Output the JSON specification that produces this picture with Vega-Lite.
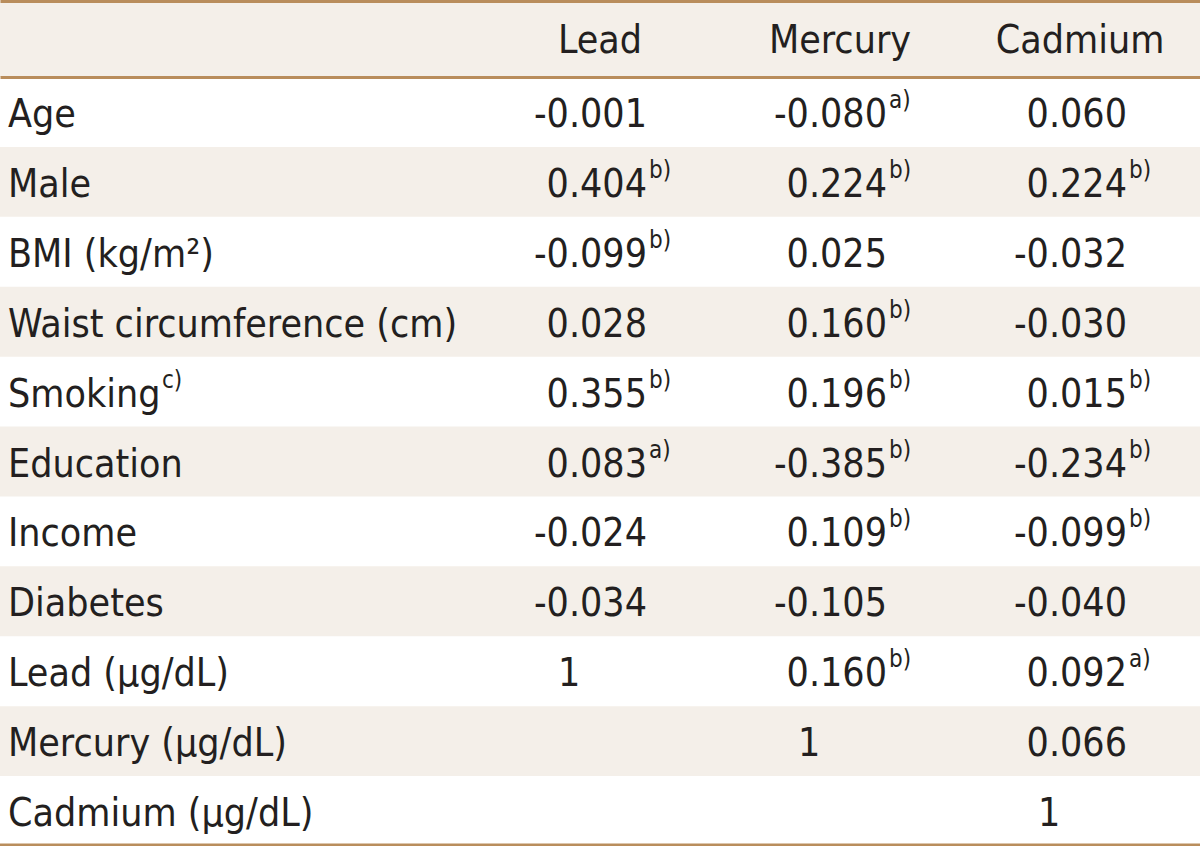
{
  "$schema": "https://vega.github.io/schema/vega-lite/v6.json",
  "padding": 0,
  "background": "white",
  "spacing": 0,
  "bounds": "flush",
  "config": {
    "view": {"stroke": null},
    "axis": {"domainColor": "#b98d5c", "domainOpacity": 1},
    "text": {"font": "DejaVu Sans Condensed, Roboto", "color": "#231f20"}
  },
  "datasets": {
    "header": [{"col": "Lead"}, {"col": "Mercury"}, {"col": "Cadmium"}],
    "cells": [
      {"row": "Age", "col": "Variable", "val": "Age", "note": ""},
      {"row": "Age", "col": "Lead", "val": "-0.001", "note": ""},
      {"row": "Age", "col": "Mercury", "val": "-0.080", "note": "a)"},
      {"row": "Age", "col": "Cadmium", "val": "0.060", "note": ""},
      {"row": "Male", "col": "Variable", "val": "Male", "note": ""},
      {"row": "Male", "col": "Lead", "val": "0.404", "note": "b)"},
      {"row": "Male", "col": "Mercury", "val": "0.224", "note": "b)"},
      {"row": "Male", "col": "Cadmium", "val": "0.224", "note": "b)"},
      {"row": "BMI", "col": "Variable", "val": "BMI (kg/m²)", "note": ""},
      {"row": "BMI", "col": "Lead", "val": "-0.099", "note": "b)"},
      {"row": "BMI", "col": "Mercury", "val": "0.025", "note": ""},
      {"row": "BMI", "col": "Cadmium", "val": "-0.032", "note": ""},
      {"row": "Waist", "col": "Variable", "val": "Waist circumference (cm)", "note": ""},
      {"row": "Waist", "col": "Lead", "val": "0.028", "note": ""},
      {"row": "Waist", "col": "Mercury", "val": "0.160", "note": "b)"},
      {"row": "Waist", "col": "Cadmium", "val": "-0.030", "note": ""},
      {"row": "Smoking", "col": "Variable", "val": "Smoking", "note": "c)"},
      {"row": "Smoking", "col": "Lead", "val": "0.355", "note": "b)"},
      {"row": "Smoking", "col": "Mercury", "val": "0.196", "note": "b)"},
      {"row": "Smoking", "col": "Cadmium", "val": "0.015", "note": "b)"},
      {"row": "Education", "col": "Variable", "val": "Education", "note": ""},
      {"row": "Education", "col": "Lead", "val": "0.083", "note": "a)"},
      {"row": "Education", "col": "Mercury", "val": "-0.385", "note": "b)"},
      {"row": "Education", "col": "Cadmium", "val": "-0.234", "note": "b)"},
      {"row": "Income", "col": "Variable", "val": "Income", "note": ""},
      {"row": "Income", "col": "Lead", "val": "-0.024", "note": ""},
      {"row": "Income", "col": "Mercury", "val": "0.109", "note": "b)"},
      {"row": "Income", "col": "Cadmium", "val": "-0.099", "note": "b)"},
      {"row": "Diabetes", "col": "Variable", "val": "Diabetes", "note": ""},
      {"row": "Diabetes", "col": "Lead", "val": "-0.034", "note": ""},
      {"row": "Diabetes", "col": "Mercury", "val": "-0.105", "note": ""},
      {"row": "Diabetes", "col": "Cadmium", "val": "-0.040", "note": ""},
      {"row": "LeadB", "col": "Variable", "val": "Lead (μg/dL)", "note": ""},
      {"row": "LeadB", "col": "Lead", "val": "1", "note": ""},
      {"row": "LeadB", "col": "Mercury", "val": "0.160", "note": "b)"},
      {"row": "LeadB", "col": "Cadmium", "val": "0.092", "note": "a)"},
      {"row": "MercuryB", "col": "Variable", "val": "Mercury (μg/dL)", "note": ""},
      {"row": "MercuryB", "col": "Mercury", "val": "1", "note": ""},
      {"row": "MercuryB", "col": "Cadmium", "val": "0.066", "note": ""},
      {"row": "CadmiumB", "col": "Variable", "val": "Cadmium (μg/dL)", "note": ""},
      {"row": "CadmiumB", "col": "Cadmium", "val": "1", "note": ""}
    ]
  },
  "vconcat": [
    {
      "width": 1200,
      "height": 77,
      "view": {"fill": "#f4efe9", "stroke": null},
      "data": {"name": "header"},
      "mark": {"type": "text", "fontSize": 39, "baseline": "alphabetic", "align": "center", "dy": 14.5},
      "encoding": {
        "x": {
          "field": "col", "type": "nominal",
          "scale": {"domain": ["Variable", "Blank", "Lead", "Mercury", "Cadmium"], "paddingInner": 0, "paddingOuter": 0},
          "axis": {"orient": "top", "domainColor": "#b98d5c", "domainWidth": 5, "labels": false, "ticks": false, "title": null, "grid": false}
        },
        "text": {"field": "col"}
      }
    },
    {
      "width": 1200,
      "height": 769,
      "data": {"name": "cells"},
      "encoding": {
        "y": {
          "field": "row", "type": "nominal",
          "scale": {"domain": ["Age", "Male", "BMI", "Waist", "Smoking", "Education", "Income", "Diabetes", "LeadB", "MercuryB", "CadmiumB"], "paddingInner": 0, "paddingOuter": 0},
          "axis": null
        }
      },
      "layer": [
        {
          "transform": [
            {"filter": {"field": "col", "equal": "Variable"}},
            {"filter": {"field": "row", "oneOf": ["Male", "Waist", "Education", "Diabetes", "MercuryB"]}}
          ],
          "mark": {"type": "rect", "color": "#f4efe9"},
          "encoding": {}
        },
        {
          "transform": [
            {"filter": {"field": "col", "equal": "Variable"}},
            {"filter": {"field": "row", "equal": "CadmiumB"}}
          ],
          "mark": {"type": "rule", "color": "#b98d5c", "strokeWidth": 5, "clip": true},
          "encoding": {
            "y": {"field": "row", "type": "nominal", "bandPosition": 1, "axis": null}
          }
        },
        {
          "transform": [{"filter": {"field": "col", "equal": "Variable"}}],
          "mark": {"type": "text", "fontSize": 39, "baseline": "alphabetic", "align": "left", "dx": -112, "dy": 15},
          "encoding": {
            "x": {
              "field": "col", "type": "nominal",
              "scale": {"domain": ["Variable", "Blank", "Lead", "Mercury", "Cadmium"], "paddingInner": 0, "paddingOuter": 0},
              "axis": {"orient": "top", "domainColor": "#b98d5c", "domainWidth": 3, "labels": false, "ticks": false, "title": null, "grid": false}
            },
            "text": {"field": "val"}
          }
        },
        {
          "transform": [{"filter": "datum.col === 'Variable' && datum.note !== ''"}],
          "mark": {"type": "text", "fontSize": 24, "baseline": "alphabetic", "align": "left", "dx": 42, "dy": -4},
          "encoding": {
            "x": {"field": "col", "type": "nominal"},
            "text": {"field": "note"}
          }
        },
        {
          "transform": [{"filter": "datum.col !== 'Variable' && datum.val !== '1'"}],
          "mark": {"type": "text", "fontSize": 39, "baseline": "alphabetic", "align": "right", "dx": 47, "dy": 15},
          "encoding": {
            "x": {"field": "col", "type": "nominal"},
            "text": {"field": "val"}
          }
        },
        {
          "transform": [{"filter": "datum.col !== 'Variable' && datum.val === '1'"}],
          "mark": {"type": "text", "fontSize": 39, "baseline": "alphabetic", "align": "left", "dx": -42, "dy": 15},
          "encoding": {
            "x": {"field": "col", "type": "nominal"},
            "text": {"field": "val"}
          }
        },
        {
          "transform": [{"filter": "datum.col !== 'Variable' && datum.note !== ''"}],
          "mark": {"type": "text", "fontSize": 24, "baseline": "alphabetic", "align": "left", "dx": 49, "dy": -4},
          "encoding": {
            "x": {"field": "col", "type": "nominal"},
            "text": {"field": "note"}
          }
        }
      ]
    }
  ]
}
